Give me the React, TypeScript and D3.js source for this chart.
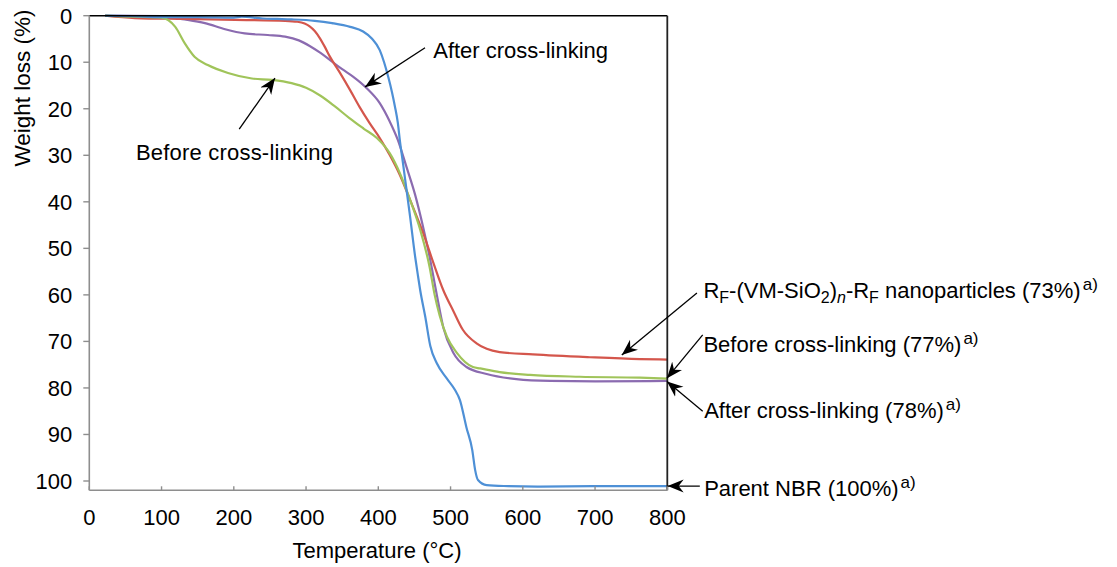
import React from "react";
import * as d3 from "d3";

// ---------- data (temperature °C, weight loss %) ----------
const NBR_T = [22, 60, 100, 150, 200, 211, 240, 260, 280, 312, 336, 361, 379, 391, 402, 408, 414, 419, 423, 427, 430, 434, 437, 444, 451, 455, 458, 465, 472, 481, 495, 506, 513, 522, 530, 534, 538, 550, 580, 620, 700, 800];
const NBR_W = [0, 0.1, 0.3, 0.3, 0.4, 0.2, 0.6, 0.7, 0.8, 1.1, 1.6, 2.4, 3.4, 4.9, 7.4, 10, 13.3, 16.5, 19.5, 23, 27, 31.5, 35, 43.2, 51.8, 56, 59, 64.7, 71, 74.7, 78, 80.4, 82.6, 88.5, 93.3, 97.6, 99.8, 100.9, 101.1, 101.2, 101.1, 101.1];

const RF_T = [22, 63, 132, 202, 271, 288, 298, 305, 312, 319, 326, 333, 347, 361, 374, 388, 402, 416, 430, 444, 462, 476, 490, 504, 517, 536, 550, 568, 614, 693, 762, 800];
const RF_W = [0, 0.5, 0.7, 0.9, 1.1, 1.3, 1.7, 2.3, 3.3, 4.8, 6.7, 8.8, 12.3, 16, 19.6, 23.1, 26.3, 30, 34.3, 39.6, 46.7, 53, 59, 63.5, 67.5, 70.4, 71.6, 72.3, 72.8, 73.4, 73.8, 73.9];

const BEFORE_T = [22, 60, 100, 119, 132, 146, 164, 192, 225, 253, 280, 300, 320, 340, 360, 380, 398, 416, 430, 444, 458, 471, 478, 485, 495, 509, 531, 541, 568, 610, 679, 762, 800];
const BEFORE_W = [0, 0.2, 0.4, 2.4, 5.9, 8.9, 10.6, 12.3, 13.5, 13.8, 14.5, 15.5, 17.2, 19.5, 22, 24.3, 26.3, 29.6, 33.9, 39.6, 46, 54, 60, 64.5, 69, 72.5, 75.5, 75.8, 76.6, 77.2, 77.6, 77.8, 78];

const AFTER_T = [22, 100, 132, 160, 188, 215, 247, 271, 290, 305, 320, 337, 350, 365, 384, 402, 416, 427, 439, 451, 462, 471, 481, 490, 504, 522, 550, 591, 638, 700, 800];
const AFTER_W = [0, 0.1, 0.8, 1.6, 2.9, 3.8, 4.15, 4.5, 5.3, 6.5, 8, 10, 11.5, 13.1, 15.6, 18.8, 22.8, 26.7, 32.5, 38.5, 45.4, 51.8, 60, 67, 72.5, 75.5, 77, 78.1, 78.5, 78.6, 78.5];

const X_TICKS = [0, 100, 200, 300, 400, 500, 600, 700, 800];
const Y_TICKS = [0, 10, 20, 30, 40, 50, 60, 70, 80, 90, 100];

const SERIES = [
  { name: "After cross-linking", t: AFTER_T, w: AFTER_W, color: "#8b6bb0" },
  { name: "RF nanoparticles", t: RF_T, w: RF_W, color: "#d4564c" },
  { name: "Before cross-linking", t: BEFORE_T, w: BEFORE_W, color: "#a0c45a" },
  { name: "Parent NBR", t: NBR_T, w: NBR_W, color: "#4e90d6" },
];

// arrows in data units: from (t1,w1) to tip (t2,w2)
const ARROWS = [
  [464.7, 6.9, 381.6, 15.3],
  [207.5, 24.4, 257, 13.4],
  [841, 59.6, 737, 72.9],
  [849, 68.6, 799.6, 77.9],
  [849, 85.0, 799.6, 78.6],
  [845, 101.1, 800.5, 101.1],
];

const FONT = "'Liberation Sans', Arial, Helvetica, sans-serif";

export default function App() {
  const W = 1117, H = 567;
  const x = d3.scaleLinear().domain([0, 800]).range([89.3, 667.3]);
  const y = d3.scaleLinear().domain([0, 102]).range([15.7, 15.7 + 102 * 4.653]);
  const line = d3
    .line<[number, number]>()
    .x((d) => x(d[0]))
    .y((d) => y(d[1]))
    .curve(d3.curveMonotoneX);

  const x0 = x(0), x1 = x(800), yTop = y(0), yBot = y(102);
  const axisGray = "#8e8e8e";
  const sup = (txt: string) => (
    <tspan dy={-8} fontSize={17} dx={2}>{txt}</tspan>
  );

  return (
    <svg width={W} height={H} style={{ position: "absolute", left: 0, top: 0, background: "#fff" }} fontFamily={FONT}>
      <defs>
        <marker id="arr" viewBox="-16 -7 17 14" markerWidth={17} markerHeight={14} refX={0} refY={0} orient="auto" markerUnits="userSpaceOnUse">
          <path d="M0,0 L-16,-6.5 L-11,0 L-16,6.5 Z" fill="#000" />
        </marker>
      </defs>
      <rect x={0} y={0} width={W} height={H} fill="#fff" />

      {/* series */}
      {SERIES.map((s) => (
        <path
          key={s.name}
          d={line(s.t.map((t, i) => [t, s.w[i]] as [number, number])) || ""}
          fill="none"
          stroke={s.color}
          strokeWidth={2.2}
          strokeLinejoin="round"
        />
      ))}

      {/* frame */}
      <line x1={x0} x2={x1} y1={yTop} y2={yTop} stroke="#000" strokeWidth={1.5} />
      <line x1={x1} x2={x1} y1={yTop} y2={yBot} stroke="#222" strokeWidth={1.8} />
      <line x1={x0} x2={x0} y1={yTop} y2={yBot} stroke={axisGray} strokeWidth={1.6} />
      <line x1={x0} x2={x1} y1={yBot} y2={yBot} stroke={axisGray} strokeWidth={1.6} />

      {/* y ticks */}
      {Y_TICKS.map((v) => (
        <g key={"y" + v}>
          <line x1={x0 - 6} x2={x0} y1={y(v)} y2={y(v)} stroke={axisGray} strokeWidth={1.4} />
          <text x={x0 - 17} y={y(v)} dy="0.36em" textAnchor="end" fontSize={22}>{v}</text>
        </g>
      ))}
      {/* x ticks */}
      {X_TICKS.map((v) => (
        <g key={"x" + v}>
          <line x1={x(v)} x2={x(v)} y1={yBot} y2={yBot - 4} stroke={axisGray} strokeWidth={1.4} />
          <text x={x(v)} y={yBot + 27} dy="0.36em" textAnchor="middle" fontSize={22}>{v}</text>
        </g>
      ))}

      {/* axis titles */}
      <text x={377} y={558} textAnchor="middle" fontSize={22}>Temperature (°C)</text>
      <text transform={`translate(30,88) rotate(-90)`} textAnchor="middle" fontSize={22.5}>Weight loss (%)</text>

      {/* arrows */}
      {ARROWS.map((a, i) => (
        <line key={"a" + i} x1={x(a[0])} y1={y(a[1])} x2={x(a[2])} y2={y(a[3])} stroke="#000" strokeWidth={1.3} markerEnd="url(#arr)" />
      ))}

      {/* annotations */}
      <text x={x(476)} y={y(7.4)} dy="0.36em" fontSize={22}>After cross-linking</text>
      <text x={x(64.6)} y={y(29.3)} dy="0.36em" fontSize={22} letterSpacing={0.2}>Before cross-linking</text>

      <text x={x(850)} y={y(59)} dy="0.36em" fontSize={22}>
        R<tspan fontSize={16} dy={5}>F</tspan>
        <tspan dy={-5}>-(VM-SiO</tspan>
        <tspan fontSize={16} dy={5}>2</tspan>
        <tspan dy={-5}>)</tspan>
        <tspan fontSize={16} dy={5} fontStyle="italic">n</tspan>
        <tspan dy={-5}>-R</tspan>
        <tspan fontSize={16} dy={5}>F</tspan>
        <tspan dy={-5}> nanoparticles (73%)</tspan>
        {sup("a)")}
      </text>
      <text x={x(850)} y={y(70.5)} dy="0.36em" fontSize={22}>
        Before cross-linking (77%){sup("a)")}
      </text>
      <text x={x(851)} y={y(84.8)} dy="0.36em" fontSize={22}>
        After cross-linking (78%){sup("a)")}
      </text>
      <text x={x(851)} y={y(101.6)} dy="0.36em" fontSize={22}>
        Parent NBR (100%){sup("a)")}
      </text>
    </svg>
  );
}
